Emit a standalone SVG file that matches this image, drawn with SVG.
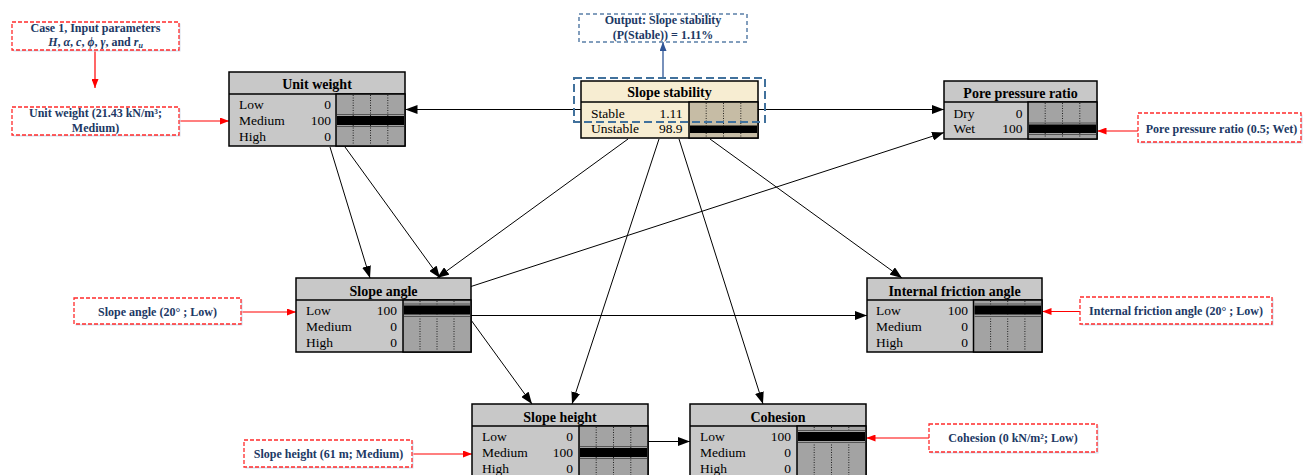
<svg xmlns="http://www.w3.org/2000/svg" width="1304" height="475" viewBox="0 0 1304 475">
<style>
.frame{stroke:#000;stroke-width:1.5}
.gray{fill:#c8c8c8}
.cream{fill:#f7edd2}
.bar{fill:#a3a3a3;stroke:#000;stroke-width:1.5}
.tbar{fill:#c6bca5;stroke:#000;stroke-width:1.5}
.dot{stroke:#000;stroke-width:0.8;stroke-dasharray:1,1.5}
.blk{fill:#000}
.edgeline{stroke:#555;stroke-width:1}
.ttl{font-family:"Liberation Serif",serif;font-weight:bold;font-size:14px;text-anchor:middle;fill:#000}
.row{font-family:"Liberation Serif",serif;font-size:13.5px;fill:#000}
.val{text-anchor:end}
.lbl{font-family:"Liberation Serif",serif;font-weight:bold;font-size:12px;fill:#203864;text-anchor:middle}
.lbox{fill:#fff;stroke:#ff2a2a;stroke-width:1.3;stroke-dasharray:4,2}
.shadow{fill:#d6e0ee}
.bbox{fill:#fff;stroke:#5a7fa8;stroke-width:1.5;stroke-dasharray:4,3}
.edge{stroke:#000;stroke-width:1;fill:none;marker-end:url(#ah)}
.redge{stroke:#ff0000;stroke-width:1.2;fill:none;marker-end:url(#rh)}
.bedge{stroke:#2f5597;stroke-width:1.3;fill:none;marker-end:url(#bh)}
</style>
<defs>
<marker id="ah" markerUnits="userSpaceOnUse" markerWidth="12" markerHeight="9" refX="12" refY="4.5" orient="auto"><path d="M0,0 L12,4.5 L0,9 z" fill="#000"/></marker>
<marker id="rh" markerUnits="userSpaceOnUse" markerWidth="9" markerHeight="7" refX="9" refY="3.5" orient="auto"><path d="M0,0 L9,3.5 L0,7 z" fill="#ff0000"/></marker>
<marker id="bh" markerUnits="userSpaceOnUse" markerWidth="9" markerHeight="7" refX="9" refY="3.5" orient="auto"><path d="M0,0 L9,3.5 L0,7 z" fill="#2f5597"/></marker>
</defs>
<rect width="1304" height="475" fill="#fff"/>

<g id="connectors">
<line class="edge" x1="581" y1="109.5" x2="405.5" y2="109.5"/>
<line class="edge" x1="758" y1="109.5" x2="944" y2="109.5"/>
<line class="edge" x1="471" y1="286.5" x2="944" y2="132.5"/>
<line class="edge" x1="330" y1="147" x2="370" y2="278"/>
<line class="edge" x1="345" y1="147" x2="440" y2="278"/>
<line class="edge" x1="628" y1="139" x2="437" y2="278"/>
<line class="edge" x1="659" y1="139" x2="572" y2="404"/>
<line class="edge" x1="679" y1="139" x2="763" y2="404"/>
<line class="edge" x1="710" y1="139" x2="902" y2="278"/>
<line class="edge" x1="471" y1="315.5" x2="867" y2="315.5"/>
<line class="edge" x1="471" y1="320" x2="532" y2="404"/>
<line class="edge" x1="648" y1="441.5" x2="690" y2="441.5"/>
<line class="redge" x1="95" y1="50" x2="95" y2="88"/>
<line class="redge" x1="179" y1="121" x2="229" y2="121"/>
<line class="redge" x1="1138" y1="131" x2="1097.5" y2="131"/>
<line class="redge" x1="241" y1="312" x2="296" y2="312"/>
<line class="redge" x1="1080" y1="311.5" x2="1042.5" y2="311.5"/>
<line class="redge" x1="412" y1="454" x2="472" y2="454"/>
<line class="redge" x1="929" y1="438" x2="866.5" y2="438"/>
<line class="bedge" x1="663" y1="78" x2="663" y2="42"/>
</g>

<g id="label-case">
<rect class="shadow" x="13.5" y="23.5" width="167" height="28"/>
<rect class="lbox" x="12" y="22" width="167" height="28"/>
<text class="lbl" x="95.5" y="31.5">Case 1, Input parameters</text>
<text class="lbl" x="95.5" y="46"><tspan font-style="italic">H</tspan>, <tspan font-style="italic">α</tspan>, <tspan font-style="italic">c</tspan>, <tspan font-style="italic">ϕ</tspan>, <tspan font-style="italic">γ</tspan>, and <tspan font-style="italic">r</tspan><tspan font-style="italic" font-size="8" dy="2">u</tspan></text>
</g>

<g id="label-unit-weight">
<rect class="shadow" x="13.5" y="108.5" width="167" height="28"/>
<rect class="lbox" x="12" y="107" width="167" height="28"/>
<text class="lbl" x="95.5" y="117">Unit weight (21.43 kN/m³;</text>
<text class="lbl" x="95.5" y="131.5">Medium)</text>
</g>

<g id="label-output">
<rect class="bbox" x="579" y="14" width="168" height="28"/>
<text class="lbl" x="663" y="24">Output: Slope stability</text>
<text class="lbl" x="663" y="38.5">(P(Stable)) = 1.11%</text>
</g>

<g id="label-pore">
<rect class="shadow" x="1139.5" y="114.5" width="163" height="29"/>
<rect class="lbox" x="1138" y="113" width="163" height="29"/>
<text class="lbl" x="1221.5" y="133">Pore pressure ratio (0.5; Wet)</text>
</g>

<g id="label-slope-angle">
<rect class="shadow" x="75.5" y="299.5" width="167" height="26"/>
<rect class="lbox" x="74" y="298" width="167" height="26"/>
<text class="lbl" x="157.5" y="316">Slope angle (20° ; Low)</text>
</g>

<g id="label-friction">
<rect class="shadow" x="1081.5" y="298.5" width="192" height="27"/>
<rect class="lbox" x="1080" y="297" width="192" height="27"/>
<text class="lbl" x="1176" y="315">Internal friction angle (20° ; Low)</text>
</g>

<g id="label-height">
<rect class="shadow" x="245.5" y="441.5" width="168" height="27"/>
<rect class="lbox" x="244" y="440" width="168" height="27"/>
<text class="lbl" x="328.5" y="458">Slope height (61 m; Medium)</text>
</g>

<g id="label-cohesion">
<rect class="shadow" x="930.5" y="425.5" width="168" height="28"/>
<rect class="lbox" x="929" y="424" width="168" height="28"/>
<text class="lbl" x="1013" y="442">Cohesion (0 kN/m²; Low)</text>
</g>

<g id="node-unit-weight">
<rect class="gray frame" x="229" y="72" width="176" height="74"/>
<line class="frame" x1="229" y1="94" x2="405" y2="94"/>
<rect class="bar" x="336" y="94" width="69" height="52"/>
<line class="dot" x1="353.2" y1="95" x2="353.2" y2="145"/>
<line class="dot" x1="370.5" y1="95" x2="370.5" y2="145"/>
<line class="dot" x1="387.8" y1="95" x2="387.8" y2="145"/>
<line class="edgeline" x1="337" y1="114.5" x2="404" y2="114.5"/>
<rect class="blk" x="337" y="116" width="67" height="9"/>
<line class="edgeline" x1="337" y1="126.5" x2="404" y2="126.5"/>
<text class="ttl" x="317" y="89">Unit weight</text>
<text class="row" x="239" y="108.5">Low</text><text class="row val" x="331" y="108.5">0</text>
<text class="row" x="239" y="124.5">Medium</text><text class="row val" x="331" y="124.5">100</text>
<text class="row" x="239" y="141">High</text><text class="row val" x="331" y="141">0</text>
</g>

<g id="node-slope-stability">
<rect class="cream frame" x="581" y="81" width="177" height="57"/>
<line class="frame" x1="581" y1="102" x2="758" y2="102"/>
<rect class="tbar" x="689" y="102" width="69" height="36"/>
<line class="dot" x1="706.2" y1="103" x2="706.2" y2="137"/>
<line class="dot" x1="723.5" y1="103" x2="723.5" y2="137"/>
<line class="dot" x1="740.8" y1="103" x2="740.8" y2="137"/>
<rect class="blk" x="690" y="125.5" width="67" height="7.5"/>
<text class="ttl" x="669.5" y="96.5">Slope stability</text>
<text class="row" x="591" y="118">Stable</text><text class="row val" x="682.5" y="118">1.11</text>
<text class="row" x="591" y="133">Unstable</text><text class="row val" x="682.5" y="133">98.9</text>
<rect x="574" y="78" width="191" height="44" fill="none" stroke="#41719c" stroke-width="2" stroke-dasharray="8,4"/>
</g>

<g id="node-pore-pressure">
<rect class="gray frame" x="944" y="81" width="153" height="58"/>
<line class="frame" x1="944" y1="102" x2="1097" y2="102"/>
<rect class="bar" x="1028" y="102" width="69" height="37"/>
<line class="dot" x1="1045.2" y1="103" x2="1045.2" y2="138"/>
<line class="dot" x1="1062.5" y1="103" x2="1062.5" y2="138"/>
<line class="dot" x1="1079.8" y1="103" x2="1079.8" y2="138"/>
<line class="edgeline" x1="1029" y1="123" x2="1096" y2="123"/>
<rect class="blk" x="1029" y="124.5" width="67" height="8.5"/>
<line class="edgeline" x1="1029" y1="134.5" x2="1096" y2="134.5"/>
<text class="ttl" x="1020.5" y="97.5">Pore pressure ratio</text>
<text class="row" x="953.5" y="117.5">Dry</text><text class="row val" x="1022.5" y="117.5">0</text>
<text class="row" x="953.5" y="133">Wet</text><text class="row val" x="1022.5" y="133">100</text>
</g>

<g id="node-slope-angle">
<rect class="gray frame" x="296" y="278" width="175" height="74"/>
<line class="frame" x1="296" y1="300" x2="471" y2="300"/>
<rect class="bar" x="403" y="300" width="68" height="52"/>
<line class="dot" x1="420" y1="301" x2="420" y2="351"/>
<line class="dot" x1="437" y1="301" x2="437" y2="351"/>
<line class="dot" x1="454" y1="301" x2="454" y2="351"/>
<line class="edgeline" x1="404" y1="304" x2="470" y2="304"/>
<rect class="blk" x="404" y="305.5" width="66" height="9"/>
<line class="edgeline" x1="404" y1="316.5" x2="470" y2="316.5"/>
<text class="ttl" x="383.5" y="295.5">Slope angle</text>
<text class="row" x="306" y="315.2">Low</text><text class="row val" x="397" y="315.2">100</text>
<text class="row" x="306" y="331.2">Medium</text><text class="row val" x="397" y="331.2">0</text>
<text class="row" x="306" y="346.8">High</text><text class="row val" x="397" y="346.8">0</text>
</g>

<g id="node-friction">
<rect class="gray frame" x="867" y="278" width="175" height="74"/>
<line class="frame" x1="867" y1="300" x2="1042" y2="300"/>
<rect class="bar" x="973.5" y="300" width="68.5" height="52"/>
<line class="dot" x1="990.6" y1="301" x2="990.6" y2="351"/>
<line class="dot" x1="1007.7" y1="301" x2="1007.7" y2="351"/>
<line class="dot" x1="1024.9" y1="301" x2="1024.9" y2="351"/>
<line class="edgeline" x1="974.5" y1="304" x2="1041" y2="304"/>
<rect class="blk" x="974.5" y="305.5" width="66.5" height="9"/>
<line class="edgeline" x1="974.5" y1="316.5" x2="1041" y2="316.5"/>
<text class="ttl" x="954.5" y="295.5">Internal friction angle</text>
<text class="row" x="876" y="315.2">Low</text><text class="row val" x="968" y="315.2">100</text>
<text class="row" x="876" y="331.2">Medium</text><text class="row val" x="968" y="331.2">0</text>
<text class="row" x="876" y="346.8">High</text><text class="row val" x="968" y="346.8">0</text>
</g>

<g id="node-slope-height">
<rect class="gray frame" x="472" y="404" width="176" height="76"/>
<line class="frame" x1="472" y1="426" x2="648" y2="426"/>
<rect class="bar" x="579" y="426" width="69" height="54"/>
<line class="dot" x1="596.2" y1="427" x2="596.2" y2="478"/>
<line class="dot" x1="613.5" y1="427" x2="613.5" y2="478"/>
<line class="dot" x1="630.8" y1="427" x2="630.8" y2="478"/>
<line class="edgeline" x1="580" y1="446.5" x2="647" y2="446.5"/>
<rect class="blk" x="580" y="448" width="67" height="9"/>
<line class="edgeline" x1="580" y1="458.5" x2="647" y2="458.5"/>
<text class="ttl" x="560" y="421.5">Slope height</text>
<text class="row" x="482" y="441.2">Low</text><text class="row val" x="573" y="441.2">0</text>
<text class="row" x="482" y="457">Medium</text><text class="row val" x="573" y="457">100</text>
<text class="row" x="482" y="472.8">High</text><text class="row val" x="573" y="472.8">0</text>
</g>

<g id="node-cohesion">
<rect class="gray frame" x="690" y="404" width="176" height="76"/>
<line class="frame" x1="690" y1="426" x2="866" y2="426"/>
<rect class="bar" x="797" y="426" width="69" height="54"/>
<line class="dot" x1="814.2" y1="427" x2="814.2" y2="478"/>
<line class="dot" x1="831.5" y1="427" x2="831.5" y2="478"/>
<line class="dot" x1="848.8" y1="427" x2="848.8" y2="478"/>
<line class="edgeline" x1="798" y1="430.5" x2="865" y2="430.5"/>
<rect class="blk" x="798" y="432" width="67" height="9"/>
<line class="edgeline" x1="798" y1="442.5" x2="865" y2="442.5"/>
<text class="ttl" x="778" y="421.5">Cohesion</text>
<text class="row" x="700" y="441.2">Low</text><text class="row val" x="791" y="441.2">100</text>
<text class="row" x="700" y="457">Medium</text><text class="row val" x="791" y="457">0</text>
<text class="row" x="700" y="472.8">High</text><text class="row val" x="791" y="472.8">0</text>
</g>
</svg>
